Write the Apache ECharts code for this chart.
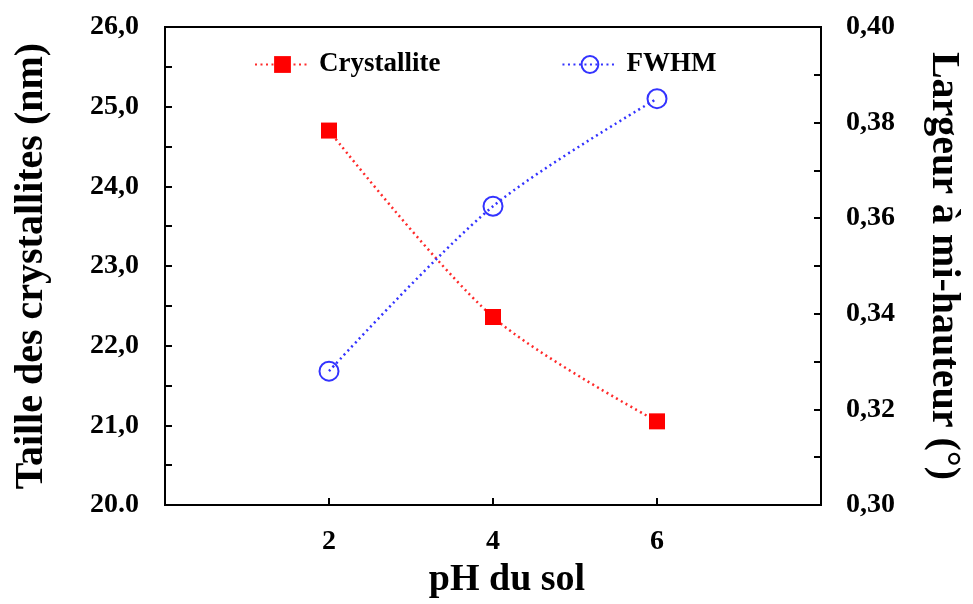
<!DOCTYPE html>
<html>
<head>
<meta charset="utf-8">
<script src="https://cdn.jsdelivr.net/npm/echarts@6/dist/echarts.min.js"></script>
<style>html,body{margin:0;padding:0;background:#fff;}#c{width:973px;height:604px;}</style>
</head>
<body>
<div id="c"></div>
<script>
var phValues = [2, 4, 6];
var crystalliteSize = [24.7, 22.36, 21.05];
var fwhmValues = [0.328, 0.3625, 0.385];
var xTickLabels = ['2', '4', '6'];

var FONT = '"Liberation Serif", "Times New Roman", serif';
var chart = echarts.init(document.getElementById('c'));
var tickStyle = { show: true, inside: true, length: 7, lineStyle: { color: '#000', width: 2 } };
var minorStyle = { show: true, splitNumber: 2, length: 7, lineStyle: { color: '#000', width: 2 } };

chart.setOption({
  animation: false,
  backgroundColor: '#fff',
  grid: { left: 165, right: 152, top: 27, bottom: 92, show: true, borderColor: '#000', borderWidth: 2 },
  legend: {
    left: 249, top: 46, itemWidth: 55, itemHeight: 21, itemGap: 121,
    textStyle: { fontFamily: FONT, fontWeight: 'bold', fontSize: 27, color: '#000', padding: [0, 0, 0, 4] },
    data: ['Crystallite', 'FWHM']
  },
  xAxis: {
    type: 'value', min: 0, max: 8, interval: 2,
    name: 'pH du sol', nameLocation: 'middle', nameGap: 56,
    nameTextStyle: { fontFamily: FONT, fontWeight: 'bold', fontSize: 38, color: '#000', padding: [0, 0, 0, 28] },
    axisLine: { lineStyle: { color: '#000', width: 2 } },
    axisTick: tickStyle,
    splitLine: { show: false },
    axisLabel: {
      margin: 23, fontFamily: FONT, fontWeight: 'bold', fontSize: 28, color: '#000',
      formatter: function (v) { var i = phValues.indexOf(v); return i >= 0 ? xTickLabels[i] : ''; }
    }
  },
  yAxis: [{
    type: 'value', min: 20, max: 26, interval: 1, position: 'left',
    name: 'Taille des crystallites (nm)', nameLocation: 'middle', nameRotate: 90, nameGap: 113,
    nameTextStyle: { fontFamily: FONT, fontWeight: 'bold', fontSize: 40, color: '#000' },
    axisLine: { show: true, lineStyle: { color: '#000', width: 2 } },
    axisTick: tickStyle, minorTick: minorStyle,
    splitLine: { show: false },
    axisLabel: {
      margin: 26, fontFamily: FONT, fontWeight: 'bold', fontSize: 28, color: '#000',
      formatter: function (v) { return v === 20 ? '20.0' : v.toFixed(1).replace('.', ','); }
    }
  }, {
    type: 'value', min: 0.30, max: 0.40, interval: 0.02, position: 'right',
    name: 'Largeur à mi-hauteur (°)', nameLocation: 'middle', nameRotate: -90, nameGap: 102,
    nameTextStyle: { fontFamily: FONT, fontWeight: 'bold', fontSize: 40, color: '#000' },
    axisLine: { show: true, lineStyle: { color: '#000', width: 2 } },
    axisTick: tickStyle, minorTick: minorStyle,
    splitLine: { show: false },
    axisLabel: {
      margin: 25, fontFamily: FONT, fontWeight: 'bold', fontSize: 28, color: '#000',
      formatter: function (v) { return v.toFixed(2).replace('.', ','); }
    }
  }],
  series: [{
    name: 'Crystallite', type: 'line', yAxisIndex: 0, smooth: 0.3,
    data: phValues.map(function (x, i) { return [x, crystalliteSize[i]]; }),
    symbol: 'rect', symbolSize: 16,
    itemStyle: { color: '#ff0000' },
    lineStyle: { color: '#ff2a2a', width: 2.5, type: [2, 3.5] }
  }, {
    name: 'FWHM', type: 'line', yAxisIndex: 1, smooth: 0.3,
    data: phValues.map(function (x, i) { return [x, fwhmValues[i]]; }),
    symbol: 'circle', symbolSize: 19,
    itemStyle: { color: 'rgba(255,255,255,0)', borderColor: '#3333ff', borderWidth: 2 },
    lineStyle: { color: '#3333ff', width: 2.5, type: [2, 3.5] }
  }]
});
</script>
</body>
</html>
